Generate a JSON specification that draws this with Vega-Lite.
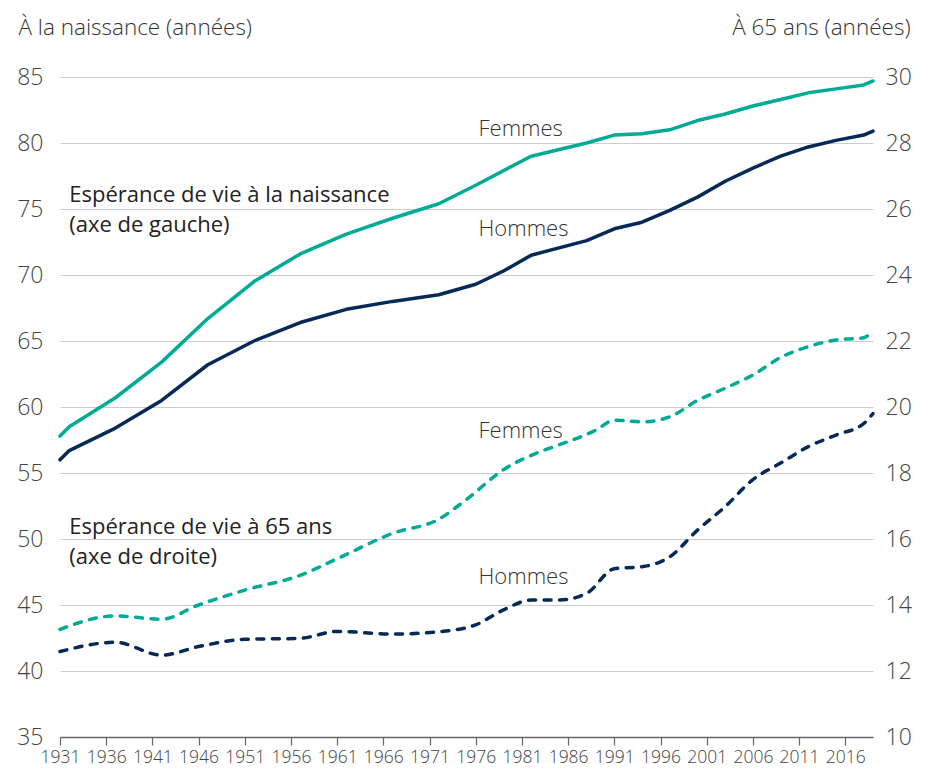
{
  "$schema": "https://vega.github.io/schema/vega-lite/v6.json",
  "width": 813,
  "height": 660,
  "autosize": {"type": "none"},
  "padding": {"left": 60, "top": 77, "right": 55, "bottom": 35},
  "background": "white",
  "config": {
    "view": {"stroke": null},
    "font": "Open Sans",
    "axis": {"labelFont": "Open Sans", "titleFont": "Open Sans"}
  },
  "datasets": {
    "naissance": [
      {"annee": 1931, "sexe": "Femmes", "valeur": 57.8},
      {"annee": 1932, "sexe": "Femmes", "valeur": 58.5},
      {"annee": 1937, "sexe": "Femmes", "valeur": 60.7},
      {"annee": 1942, "sexe": "Femmes", "valeur": 63.4},
      {"annee": 1947, "sexe": "Femmes", "valeur": 66.7},
      {"annee": 1952, "sexe": "Femmes", "valeur": 69.5},
      {"annee": 1957, "sexe": "Femmes", "valeur": 71.6},
      {"annee": 1962, "sexe": "Femmes", "valeur": 73.1},
      {"annee": 1967, "sexe": "Femmes", "valeur": 74.3},
      {"annee": 1972, "sexe": "Femmes", "valeur": 75.4},
      {"annee": 1976, "sexe": "Femmes", "valeur": 76.8},
      {"annee": 1982, "sexe": "Femmes", "valeur": 79.0},
      {"annee": 1988, "sexe": "Femmes", "valeur": 80.0},
      {"annee": 1991, "sexe": "Femmes", "valeur": 80.6},
      {"annee": 1994, "sexe": "Femmes", "valeur": 80.7},
      {"annee": 1997, "sexe": "Femmes", "valeur": 81.0},
      {"annee": 2000, "sexe": "Femmes", "valeur": 81.7},
      {"annee": 2003, "sexe": "Femmes", "valeur": 82.2},
      {"annee": 2006, "sexe": "Femmes", "valeur": 82.8},
      {"annee": 2009, "sexe": "Femmes", "valeur": 83.3},
      {"annee": 2012, "sexe": "Femmes", "valeur": 83.8},
      {"annee": 2015, "sexe": "Femmes", "valeur": 84.1},
      {"annee": 2018, "sexe": "Femmes", "valeur": 84.4},
      {"annee": 2019, "sexe": "Femmes", "valeur": 84.7},
      {"annee": 1931, "sexe": "Hommes", "valeur": 56.0},
      {"annee": 1932, "sexe": "Hommes", "valeur": 56.7},
      {"annee": 1937, "sexe": "Hommes", "valeur": 58.4},
      {"annee": 1942, "sexe": "Hommes", "valeur": 60.5},
      {"annee": 1947, "sexe": "Hommes", "valeur": 63.2},
      {"annee": 1952, "sexe": "Hommes", "valeur": 65.0},
      {"annee": 1957, "sexe": "Hommes", "valeur": 66.4},
      {"annee": 1962, "sexe": "Hommes", "valeur": 67.4},
      {"annee": 1967, "sexe": "Hommes", "valeur": 68.0},
      {"annee": 1972, "sexe": "Hommes", "valeur": 68.5},
      {"annee": 1976, "sexe": "Hommes", "valeur": 69.3},
      {"annee": 1979, "sexe": "Hommes", "valeur": 70.3},
      {"annee": 1982, "sexe": "Hommes", "valeur": 71.5},
      {"annee": 1988, "sexe": "Hommes", "valeur": 72.6},
      {"annee": 1991, "sexe": "Hommes", "valeur": 73.5},
      {"annee": 1994, "sexe": "Hommes", "valeur": 74.0},
      {"annee": 1997, "sexe": "Hommes", "valeur": 74.9},
      {"annee": 2000, "sexe": "Hommes", "valeur": 75.9},
      {"annee": 2003, "sexe": "Hommes", "valeur": 77.1},
      {"annee": 2006, "sexe": "Hommes", "valeur": 78.1},
      {"annee": 2009, "sexe": "Hommes", "valeur": 79.0},
      {"annee": 2012, "sexe": "Hommes", "valeur": 79.7},
      {"annee": 2015, "sexe": "Hommes", "valeur": 80.2},
      {"annee": 2018, "sexe": "Hommes", "valeur": 80.6},
      {"annee": 2019, "sexe": "Hommes", "valeur": 80.9}
    ],
    "a65": [
      {"annee": 1931, "sexe": "Femmes", "valeur": 13.26},
      {"annee": 1937, "sexe": "Femmes", "valeur": 13.67},
      {"annee": 1942, "sexe": "Femmes", "valeur": 13.57},
      {"annee": 1946, "sexe": "Femmes", "valeur": 14.0},
      {"annee": 1951, "sexe": "Femmes", "valeur": 14.45},
      {"annee": 1957, "sexe": "Femmes", "valeur": 14.9},
      {"annee": 1961, "sexe": "Femmes", "valeur": 15.4},
      {"annee": 1967, "sexe": "Femmes", "valeur": 16.17},
      {"annee": 1972, "sexe": "Femmes", "valeur": 16.6},
      {"annee": 1975, "sexe": "Femmes", "valeur": 17.2},
      {"annee": 1979, "sexe": "Femmes", "valeur": 18.1},
      {"annee": 1983, "sexe": "Femmes", "valeur": 18.65},
      {"annee": 1985, "sexe": "Femmes", "valeur": 18.85},
      {"annee": 1989, "sexe": "Femmes", "valeur": 19.3},
      {"annee": 1991, "sexe": "Femmes", "valeur": 19.6},
      {"annee": 1994, "sexe": "Femmes", "valeur": 19.55},
      {"annee": 1997, "sexe": "Femmes", "valeur": 19.7},
      {"annee": 2000, "sexe": "Femmes", "valeur": 20.2},
      {"annee": 2003, "sexe": "Femmes", "valeur": 20.57},
      {"annee": 2006, "sexe": "Femmes", "valeur": 20.97},
      {"annee": 2009, "sexe": "Femmes", "valeur": 21.5},
      {"annee": 2012, "sexe": "Femmes", "valeur": 21.83},
      {"annee": 2015, "sexe": "Femmes", "valeur": 22.03},
      {"annee": 2018, "sexe": "Femmes", "valeur": 22.1},
      {"annee": 2019, "sexe": "Femmes", "valeur": 22.33},
      {"annee": 1931, "sexe": "Hommes", "valeur": 12.59},
      {"annee": 1937, "sexe": "Hommes", "valeur": 12.87},
      {"annee": 1942, "sexe": "Hommes", "valeur": 12.48},
      {"annee": 1946, "sexe": "Hommes", "valeur": 12.74},
      {"annee": 1951, "sexe": "Hommes", "valeur": 12.96},
      {"annee": 1957, "sexe": "Hommes", "valeur": 12.99},
      {"annee": 1961, "sexe": "Hommes", "valeur": 13.2},
      {"annee": 1967, "sexe": "Hommes", "valeur": 13.12},
      {"annee": 1972, "sexe": "Hommes", "valeur": 13.19},
      {"annee": 1976, "sexe": "Hommes", "valeur": 13.4},
      {"annee": 1979, "sexe": "Hommes", "valeur": 13.85},
      {"annee": 1982, "sexe": "Hommes", "valeur": 14.15},
      {"annee": 1985, "sexe": "Hommes", "valeur": 14.15},
      {"annee": 1988, "sexe": "Hommes", "valeur": 14.35},
      {"annee": 1991, "sexe": "Hommes", "valeur": 15.1},
      {"annee": 1994, "sexe": "Hommes", "valeur": 15.16},
      {"annee": 1997, "sexe": "Hommes", "valeur": 15.46},
      {"annee": 2000, "sexe": "Hommes", "valeur": 16.27},
      {"annee": 2003, "sexe": "Hommes", "valeur": 16.98},
      {"annee": 2006, "sexe": "Hommes", "valeur": 17.8},
      {"annee": 2009, "sexe": "Hommes", "valeur": 18.3},
      {"annee": 2012, "sexe": "Hommes", "valeur": 18.8},
      {"annee": 2015, "sexe": "Hommes", "valeur": 19.15},
      {"annee": 2018, "sexe": "Hommes", "valeur": 19.5},
      {"annee": 2019, "sexe": "Hommes", "valeur": 19.8}
    ]
  },
  "layer": [
    {
      "layer": [
        {
          "data": {"name": "naissance"},
          "mark": {"type": "line", "strokeWidth": 3.5, "interpolate": "linear", "strokeCap": "round", "strokeJoin": "round"},
          "encoding": {
            "x": {
              "field": "annee", "type": "quantitative",
              "scale": {"domain": [1931, 2019], "nice": false, "zero": false},
              "axis": {
                "title": null, "values": [1931,1936,1941,1946,1951,1956,1961,1966,1971,1976,1981,1986,1991,1996,2001,2006,2011,2016],
                "format": "d", "grid": false, "domainColor": "#666666", "domainWidth": 1.5,
                "tickColor": "#666666", "tickSize": 8, "tickWidth": 1.2,
                "labelFontSize": 17.5, "labelColor": "#444444", "labelPadding": 3, "labelFlush": false, "labelOverlap": false, "labelFontWeight": 300
              }
            },
            "y": {
              "field": "valeur", "type": "quantitative",
              "scale": {"domain": [35, 85], "nice": false, "zero": false},
              "axis": {
                "orient": "left", "title": "À la naissance (années)", "values": [35,40,45,50,55,60,65,70,75,80,85],
                "domain": false, "ticks": false, "grid": true, "gridColor": "#cccccc", "gridWidth": 1,
                "labelFontSize": 23, "labelColor": "#444444", "labelPadding": 17, "labelFontWeight": 300,
                "titleAngle": 0, "titleAlign": "left", "titleBaseline": "middle", "titleX": -42, "titleY": -50,
                "titleFontSize": 22.5, "titleFontWeight": 300, "titleColor": "#333333"
              }
            },
            "color": {"field": "sexe", "type": "nominal", "scale": {"domain": ["Femmes", "Hommes"], "range": ["#00ab96", "#062a55"]}, "legend": null}
          }
        },
        {
          "data": {"values": [{}]},
          "mark": {"type": "text", "text": "Espérance de vie à la naissance", "align": "left", "baseline": "middle", "fontSize": 22, "color": "#222222"},
          "encoding": {"x": {"datum": 1932}, "y": {"datum": 76.06}}
        },
        {
          "data": {"values": [{}]},
          "mark": {"type": "text", "text": "(axe de gauche)", "align": "left", "baseline": "middle", "fontSize": 22, "color": "#222222"},
          "encoding": {"x": {"datum": 1932}, "y": {"datum": 73.79}}
        },
        {
          "data": {"values": [{}]},
          "mark": {"type": "text", "text": "Femmes", "align": "left", "baseline": "middle", "fontSize": 22, "fontWeight": 300, "color": "#333333"},
          "encoding": {"x": {"datum": 1976.3}, "y": {"datum": 81.06}}
        },
        {
          "data": {"values": [{}]},
          "mark": {"type": "text", "text": "Hommes", "align": "left", "baseline": "middle", "fontSize": 22, "fontWeight": 300, "color": "#333333"},
          "encoding": {"x": {"datum": 1976.3}, "y": {"datum": 73.48}}
        }
      ]
    },
    {
      "layer": [
        {
          "data": {"name": "a65"},
          "mark": {"type": "line", "strokeWidth": 3.5, "interpolate": "monotone", "strokeDash": [7, 8.5], "strokeCap": "round"},
          "encoding": {
            "x": {"field": "annee", "type": "quantitative", "scale": {"domain": [1931, 2019], "nice": false, "zero": false}},
            "y": {
              "field": "valeur", "type": "quantitative",
              "scale": {"domain": [10, 30], "nice": false, "zero": false},
              "axis": {
                "orient": "right", "title": "À 65 ans (années)", "values": [10,12,14,16,18,20,22,24,26,28,30],
                "domain": false, "ticks": false, "grid": false,
                "labelFontSize": 23, "labelColor": "#444444", "labelPadding": 12, "labelFontWeight": 300,
                "titleAngle": 0, "titleAlign": "right", "titleBaseline": "middle", "titleX": 37, "titleY": -50,
                "titleFontSize": 22.5, "titleFontWeight": 300, "titleColor": "#333333"
              }
            },
            "color": {"field": "sexe", "type": "nominal", "scale": {"domain": ["Femmes", "Hommes"], "range": ["#00ab96", "#062a55"]}, "legend": null}
          }
        },
        {
          "data": {"values": [{}]},
          "mark": {"type": "text", "text": "Espérance de vie à 65 ans", "align": "left", "baseline": "middle", "fontSize": 22, "color": "#222222"},
          "encoding": {"x": {"datum": 1932}, "y": {"datum": 16.37}}
        },
        {
          "data": {"values": [{}]},
          "mark": {"type": "text", "text": "(axe de droite)", "align": "left", "baseline": "middle", "fontSize": 22, "color": "#222222"},
          "encoding": {"x": {"datum": 1932}, "y": {"datum": 15.46}}
        },
        {
          "data": {"values": [{}]},
          "mark": {"type": "text", "text": "Femmes", "align": "left", "baseline": "middle", "fontSize": 22, "fontWeight": 300, "color": "#333333"},
          "encoding": {"x": {"datum": 1976.3}, "y": {"datum": 19.27}}
        },
        {
          "data": {"values": [{}]},
          "mark": {"type": "text", "text": "Hommes", "align": "left", "baseline": "middle", "fontSize": 22, "fontWeight": 300, "color": "#333333"},
          "encoding": {"x": {"datum": 1976.3}, "y": {"datum": 14.85}}
        }
      ]
    }
  ],
  "resolve": {"scale": {"y": "independent"}}
}
